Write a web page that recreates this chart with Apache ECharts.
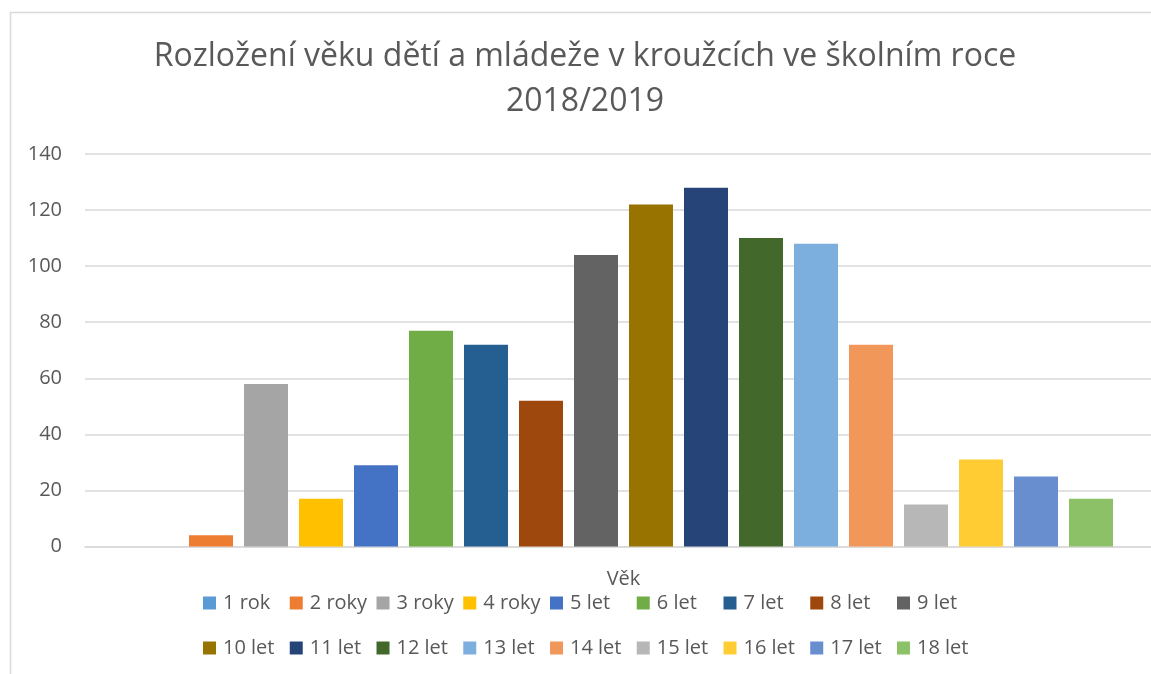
<!DOCTYPE html>
<html>
<head>
<meta charset="utf-8">
<script src="https://cdn.jsdelivr.net/npm/echarts@6/dist/echarts.min.js"></script>
<style>
    html, body { margin: 0; padding: 0; background: #fff; }
    #chart { width: 1151px; height: 674px; }
</style>
</head>
<body>
<div id="chart"></div>
<script>
// kategorie (jediná) a série podle věku
const categories = ["Věk"];
const ageNames = [
    "1 rok", "2 roky", "3 roky", "4 roky", "5 let", "6 let", "7 let", "8 let", "9 let",
    "10 let", "11 let", "12 let", "13 let", "14 let", "15 let", "16 let", "17 let", "18 let"
];
const ageValues = [0, 4, 58, 17, 29, 77, 72, 52, 104, 122, 128, 110, 108, 72, 15, 31, 25, 17];
const ageColors = [
    "#5B9BD5", "#ED7D31", "#A5A5A5", "#FFC000", "#4472C4", "#70AD47", "#255E91", "#9E480E", "#636363",
    "#997300", "#264478", "#43682B", "#7CAFDD", "#F1975A", "#B7B7B7", "#FFCD33", "#698ED0", "#8CC168"
];
const yTicks = { min: 0, max: 140, interval: 20 };

const fontFamily = "'Open Sans', 'Noto Sans', sans-serif";
const textColor = "#595959";

// série - každý věk jeden sloupec
let series = [];
for (let i = 0; i < ageNames.length; i++) {
    series.push({
        name: ageNames[i],
        type: "bar",
        data: [ageValues[i]],
        barWidth: 44,
        barGap: "25%",
        itemStyle: { color: ageColors[i] },
    });
}

// legenda ve dvou řádcích po 9 položkách, pevná šířka položky
function makeLegend(names, top) {
    return {
        data: names,
        left: 203,
        top: top,
        padding: 0,
        orient: "horizontal",
        itemWidth: 13,
        itemHeight: 13,
        itemGap: 0,
        icon: "rect",
        formatter: "{a|{name}}",
        textStyle: {
            rich: {
                a: {
                    color: textColor,
                    fontSize: 20,
                    fontFamily: fontFamily,
                    width: 66.75,
                    lineHeight: 24,
                    padding: [0, 0, 0, 2],
                },
            },
        },
    };
}

let option = {
    animation: false,
    backgroundColor: "#fff",
    title: {
        text: "Rozložení věku dětí a mládeže v kroužcích ve školním roce\n2018/2019",
        left: 585,
        top: 34,
        padding: 0,
        textAlign: "center",
        textStyle: {
            color: textColor,
            fontSize: 32,
            fontWeight: "normal",
            fontFamily: fontFamily,
            lineHeight: 45,
        },
    },
    legend: [
        makeLegend(ageNames.slice(0, 9), 593),
        makeLegend(ageNames.slice(9), 638),
    ],
    grid: {
        left: 85,
        right: -11,
        top: 154,
        bottom: 127.5,
        containLabel: false,
        outerBoundsMode: "none", // mřížka přesahuje pravý okraj jako v originále
    },
    xAxis: {
        type: "category",
        data: categories,
        axisLine: { lineStyle: { color: "#D9D9D9", width: 1.5 } },
        axisTick: { show: false },
        axisLabel: {
            color: textColor,
            fontSize: 20,
            fontFamily: fontFamily,
            margin: 23,
        },
    },
    yAxis: {
        type: "value",
        min: yTicks.min,
        max: yTicks.max,
        interval: yTicks.interval,
        axisLine: { show: false },
        axisTick: { show: false },
        splitLine: { lineStyle: { color: "#D9D9D9", width: 1.5 } },
        axisLabel: {
            color: textColor,
            fontSize: 20,
            fontFamily: fontFamily,
            margin: 23,
        },
    },
    graphic: [
        {
            type: "rect",
            left: 8,
            top: 10,
            shape: { width: 1200, height: 700 },
            style: { fill: "none", stroke: "#D9D9D9", lineWidth: 1.5 },
            silent: true,
        },
    ],
    series: series,
};

const chartObj = echarts.init(document.getElementById("chart"));
chartObj.setOption(option);
window.addEventListener("resize", function () {
    chartObj.resize();
});
</script>
</body>
</html>
